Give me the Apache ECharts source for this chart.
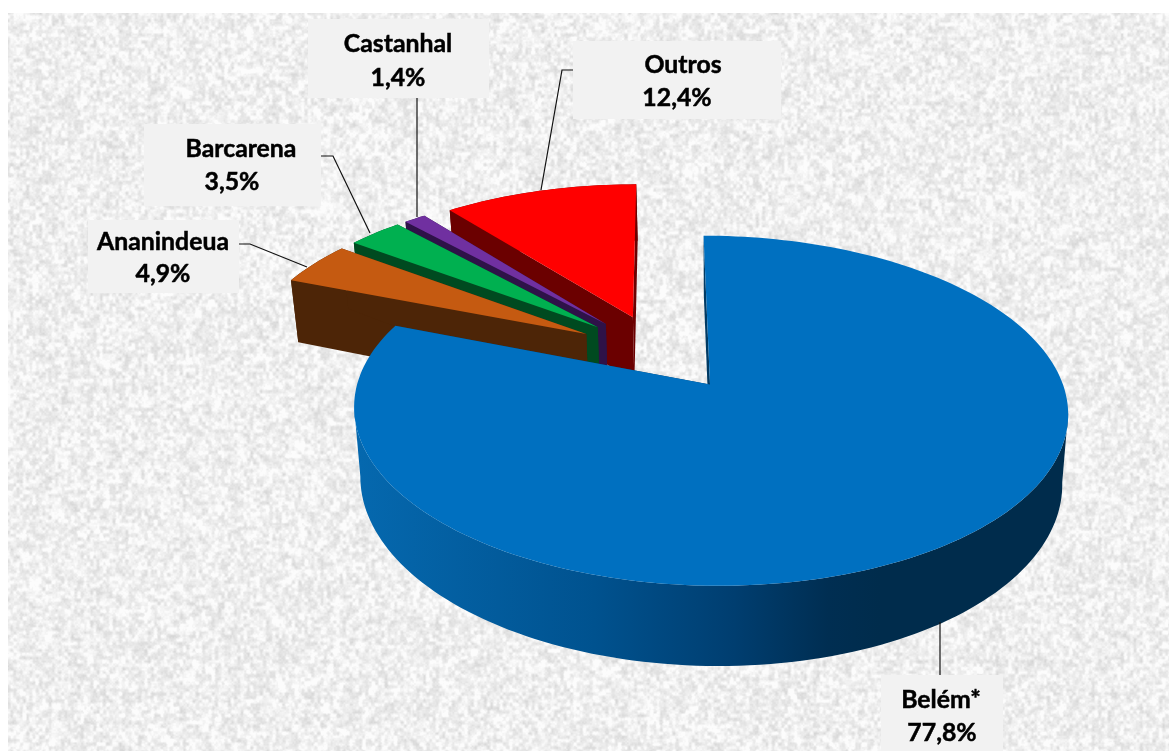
<!DOCTYPE html>
<html>
<head>
<meta charset="utf-8">
<style>
html, body { margin: 0; padding: 0; background: #fff; }
#chart { width: 1169px; height: 751px; }
</style>
<script src="https://cdn.jsdelivr.net/npm/echarts@6/dist/echarts.min.js"></script>
</head>
<body>
<div id="chart"></div>
<script>
// data
const names = ["Belém*", "Ananindeua", "Barcarena", "Castanhal", "Outros"];
const values = [77.8, 4.9, 3.5, 1.4, 12.4];

const topColors = ["#0070c0", "#c55a11", "#00b050", "#7030a0", "#ff0000"];
const wallColors = ["#003a63", "#4d2507", "#004a20", "#2e1248", "#6b0000"];

// label boxes: [left, top, right, bottom, name cx, name cy, value cx, value cy]
const boxes = [
    [881, 675, 1003, 751, 941, 700, 942, 733],
    [88, 220, 239, 293, 163, 242, 163, 274],
    [144, 124, 321, 206, 241, 149, 232, 182],
    [308, 19, 489, 98, 398, 44, 398, 78],
    [573, 41, 781, 119, 683, 65, 677, 98],
];
const leaders = [
    [[940, 622], [940, 675]],
    [[239, 244], [250, 244], [307, 267]],
    [[321, 156], [333, 156], [370, 233]],
    [[417, 98], [417, 217]],
    [[573, 70], [562, 70], [541, 190]],
];

// perspective of the tilted disc, unit radius in plane coords
const view = { cx: 660.2, cy: 352.2, a: 343, b: 161.6, p: 0.145, depth: 66.4, baseX: 720, baseScale: 0.983 };
const explodeX = 0.25;
const explodeY = 0.236;
// the small slices come out narrower than their share in the reference's 3D view
const squeeze = 0.86;

const project = (u, v, bottom) => {
    const w = 1 - view.p * v;
    let x = view.cx + view.a * u / w;
    let y = view.cy + view.b * v / w;
    if (bottom) {
        x = view.baseX + (x - view.baseX) * view.baseScale;
        y += view.depth / w;
    }
    return [x, y];
};

const sliceAngles = () => {
    const total = values.reduce((s, v) => s + v, 0);
    const rest = values.slice(1).reduce((s, v) => s + v, 0) * 360 / total * squeeze;
    const out = [[0, 360 - rest]];
    let at = 360 - rest;
    values.slice(1).forEach((v) => {
        const next = at + v * 360 / total * squeeze;
        out.push([at, next]);
        at = next;
    });
    return out;
};
const angles = sliceAngles();

const dir = (deg) => {
    const r = deg * Math.PI / 180;
    return [Math.sin(r), -Math.cos(r)];
};

const rimGradient = new echarts.graphic.LinearGradient(360, 0, 880, 0, [
    { offset: 0, color: "#0568ae" },
    { offset: 0.45, color: "#00528f" },
    { offset: 0.72, color: "#003e70" },
    { offset: 0.9, color: "#002e52" },
    { offset: 1, color: "#002c4c" },
], true);

// part of an arc between its leftmost and rightmost points, ends at the silhouette
const sideRange = (arc) => {
    let l = 0;
    let r = 0;
    arc.forEach((p, k) => {
        if (p[0] < arc[l][0]) l = k;
        if (p[0] > arc[r][0]) r = k;
    });
    return arc.slice(Math.min(l, r), Math.max(l, r) + 1);
};

const renderSlice = (params, api) => {
    const i = api.value(0);
    const [a0, a1] = angles[i];
    const mid = dir((a0 + a1) / 2);
    const ox = mid[0] * explodeX;
    const oy = mid[1] * explodeY;
    const steps = Math.max(4, Math.round((a1 - a0) / 1.5));
    const arcTop = [];
    const arcBottom = [];
    for (let k = 0; k <= steps; k++) {
        const d = dir(a0 + (a1 - a0) * k / steps);
        arcTop.push(project(ox + d[0], oy + d[1], false));
        arcBottom.push(project(ox + d[0], oy + d[1], true));
    }
    const apexTop = project(ox, oy, false);
    const apexBottom = project(ox, oy, true);
    const wall = wallColors[i];
    const rimFill = i === 0 ? rimGradient : wall;
    const poly = (points, fill) => ({ type: "polygon", shape: { points }, style: { fill } });
    return {
        type: "group",
        children: [
            poly(sideRange(arcTop).concat(sideRange(arcBottom).reverse()), rimFill),
            poly([apexTop, arcTop[0], arcBottom[0], apexBottom], wall),
            poly([apexTop, arcTop[steps], arcBottom[steps], apexBottom], wall),
            poly([apexTop].concat(arcTop), topColors[i]),
        ],
    };
};

// speckled paper background, a fixed hash so it comes out the same every time
const makeTexture = (w, h) => {
    const canvas = document.createElement("canvas");
    canvas.width = w;
    canvas.height = h;
    const ctx = canvas.getContext("2d");
    const img = ctx.createImageData(w, h);
    const hash = (x, y) => {
        const s = Math.sin(x * 127.1 + y * 311.7) * 43758.5453;
        return s - Math.floor(s);
    };
    const noise = (x, y) => {
        const xi = Math.floor(x), yi = Math.floor(y);
        const fx = x - xi, fy = y - yi;
        const sx = fx * fx * (3 - 2 * fx), sy = fy * fy * (3 - 2 * fy);
        const top = hash(xi, yi) * (1 - sx) + hash(xi + 1, yi) * sx;
        const bot = hash(xi, yi + 1) * (1 - sx) + hash(xi + 1, yi + 1) * sx;
        return top * (1 - sy) + bot * sy;
    };
    for (let y = 0; y < h; y++) {
        for (let x = 0; x < w; x++) {
            const n = 0.6 * noise(x / 3.2, y / 3.6) + 0.2 * noise(x / 7 + 40, y / 8 + 9) + 0.2 * noise(x / 1.6 + 7, y / 1.6);
            let g = 239 + (n - 0.5) * 58;
            g = Math.max(200, Math.min(252, g));
            const p = (y * w + x) * 4;
            img.data[p] = g;
            img.data[p + 1] = g;
            img.data[p + 2] = g;
            img.data[p + 3] = 255;
        }
    }
    ctx.putImageData(img, 0, 0);
    return canvas;
};

const graphics = [{
    type: "image",
    z: -10,
    silent: true,
    style: { image: makeTexture(1161, 738), x: 8, y: 13, width: 1161, height: 738 },
}];
leaders.forEach((points) => {
    graphics.push({
        type: "polyline",
        z: 20,
        shape: { points },
        style: { fill: null, stroke: "#111", lineWidth: 1.2 },
    });
});
const textStyle = {
    fill: "#000",
    stroke: "#000",
    lineWidth: 0.5,
    font: 'bold 24.8px Lato, sans-serif',
    textAlign: "center",
    textVerticalAlign: "middle",
};
boxes.forEach((b, i) => {
    graphics.push({
        type: "rect",
        z: 21,
        shape: { x: b[0], y: b[1], width: b[2] - b[0], height: b[3] - b[1] },
        style: { fill: "#f2f2f2" },
    });
    graphics.push({
        type: "text",
        z: 22,
        style: { ...textStyle, text: names[i], x: b[4], y: b[5] },
    });
    graphics.push({
        type: "text",
        z: 22,
        style: { ...textStyle, text: values[i].toFixed(1).replace(".", ",") + "%", x: b[6], y: b[7] },
    });
});

const chart = echarts.init(document.getElementById("chart"), null, { renderer: "canvas" });
chart.setOption({
    animation: false,
    backgroundColor: "#fff",
    graphic: graphics,
    series: [
        {
            type: "custom",
            coordinateSystem: "none",
            z: 5,
            silent: true,
            renderItem: renderSlice,
            // painted back to front
            data: [[4], [3], [2], [1], [0]],
        },
    ],
});
</script>
</body>
</html>
